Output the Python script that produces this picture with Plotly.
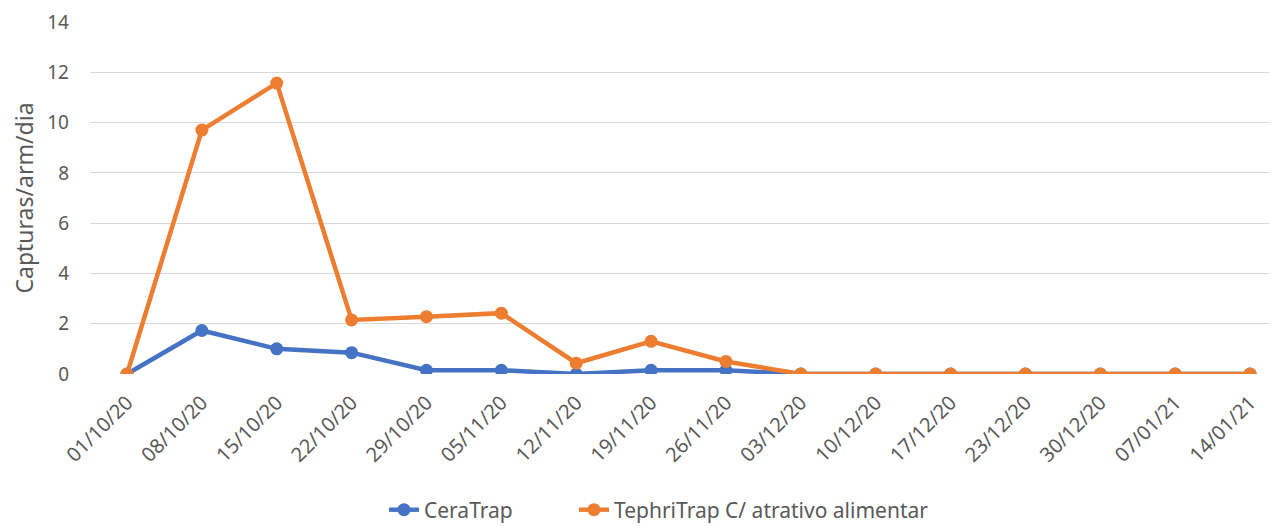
import plotly.graph_objects as go

dates = ["01/10/20", "08/10/20", "15/10/20", "22/10/20", "29/10/20", "05/11/20",
         "12/11/20", "19/11/20", "26/11/20", "03/12/20", "10/12/20", "17/12/20",
         "23/12/20", "30/12/20", "07/01/21", "14/01/21"]
ceratrap = [0, 1.73, 1.0, 0.85, 0.15, 0.15, 0, 0.15, 0.15, 0, 0, 0, 0, 0, 0, 0]
tephritrap = [0, 9.7, 11.57, 2.15, 2.28, 2.42, 0.43, 1.3, 0.5, 0, 0, 0, 0, 0, 0, 0]

font_main = "Noto Sans, Open Sans, sans-serif"
grey = "#595959"
fig = go.Figure()
fig.add_trace(go.Scatter(x=list(range(len(dates))), y=ceratrap, mode="lines+markers",
                         name="CeraTrap", line=dict(color="#4472C4", width=4.5),
                         marker=dict(size=13, color="#4472C4"), legend="legend"))
fig.add_trace(go.Scatter(x=list(range(len(dates))), y=tephritrap, mode="lines+markers",
                         name="TephriTrap C/ atrativo alimentar",
                         line=dict(color="#ED7D31", width=4.5),
                         marker=dict(size=13, color="#ED7D31"), legend="legend2"))

leg_common = dict(orientation="h", xref="container", yref="container",
                  xanchor="left", y=(518 - 502) / 518, yanchor="middle",
                  font=dict(size=21, color=grey), bgcolor="rgba(0,0,0,0)")
fig.update_layout(
    width=1269, height=518,
    margin=dict(l=82, r=0, t=14, b=152),
    plot_bgcolor="white", paper_bgcolor="white",
    font=dict(family=font_main, color=grey, size=18),
    showlegend=True,
    legend=dict(x=(384 - 8) / 1269, **leg_common),
    legend2=dict(x=(574 - 8) / 1269, **leg_common),
)
fig.update_xaxes(
    tickmode="array", tickvals=list(range(len(dates))), ticktext=dates,
    tickangle=-45, range=[-0.494, 15.36], showgrid=False, zeroline=False,
    showline=False, ticks="", tickfont=dict(size=20, color=grey), automargin=False,
    ticklabelstandoff=12,
)
fig.update_yaxes(
    range=[0, 14], dtick=2, showgrid=True, gridcolor="#D9D9D9", gridwidth=1.3,
    zeroline=False, showline=False, ticks="", tickfont=dict(size=19, color=grey),
    title=dict(text="Capturas/arm/dia", font=dict(size=23, color=grey), standoff=8),
    automargin=False, ticklabelstandoff=20,
)
fig.write_html("out.html")
